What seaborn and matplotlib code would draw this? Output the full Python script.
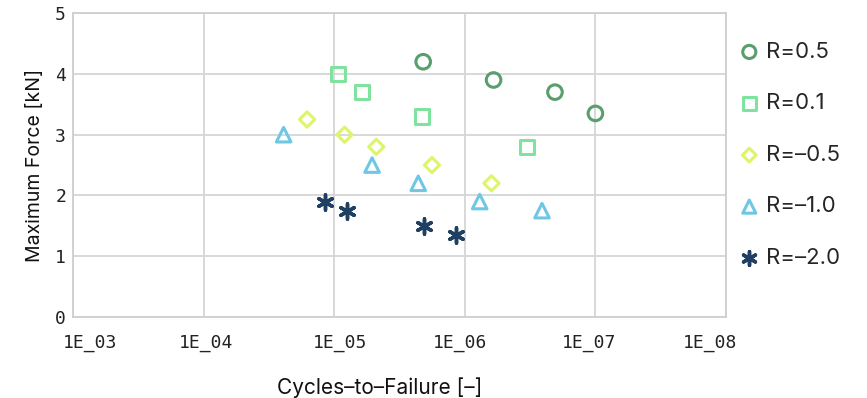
import numpy as np
import pandas as pd
import matplotlib
matplotlib.use("Agg")
import matplotlib.pyplot as plt
import matplotlib.transforms as mtransforms
import seaborn as sns

# Fatigue test results: cycles to failure and maximum force per load ratio R
labels = ["R=0.5", "R=0.1", "R=–0.5", "R=–1.0", "R=–2.0"]

cycles_r05 = [4.8e5, 1.66e6, 4.9e6, 1.0e7]
force_r05 = [4.2, 3.9, 3.7, 3.35]

cycles_r01 = [1.07e5, 1.63e5, 4.7e5, 3.0e6]
force_r01 = [4.0, 3.7, 3.3, 2.8]

cycles_rm05 = [6.2e4, 1.2e5, 2.1e5, 5.6e5, 1.6e6]
force_rm05 = [3.25, 3.0, 2.8, 2.5, 2.2]

cycles_rm10 = [4.1e4, 1.95e5, 4.4e5, 1.3e6, 3.9e6]
force_rm10 = [3.0, 2.5, 2.2, 1.9, 1.75]

cycles_rm20 = [8.5e4, 1.26e5, 4.9e5, 8.5e5]
force_rm20 = [1.9, 1.75, 1.5, 1.35]

x_ticks = [1e3, 1e4, 1e5, 1e6, 1e7, 1e8]
x_tick_labels = ["1E_03", "1E_04", "1E_05", "1E_06", "1E_07", "1E_08"]
y_ticks = [0, 1, 2, 3, 4, 5]

colors = ["#5a9e6e", "#7ee39e", "#dcf56a", "#6ec8e4", "#1f4063"]
star = (6, 2, 0)
markers = ["o", "s", "D", "^", star]
sizes = [110, 110, 60, 110, 120]

series = [
    (cycles_r05, force_r05),
    (cycles_r01, force_r01),
    (cycles_rm05, force_rm05),
    (cycles_rm10, force_rm10),
    (cycles_rm20, force_rm20),
]

sns.set_theme(style="white")
plt.rcParams["font.family"] = ["Inter", "DejaVu Sans"]

fig = plt.figure(figsize=(8.67, 3.98), dpi=100)
ax = fig.add_axes([0.0842, 0.2035, 0.7532, 0.7635])

for (xs, ys), lab, col, mk, sz in zip(series, labels, colors, markers, sizes):
    df = pd.DataFrame({"cycles": xs, "force": ys})
    filled = mk != star
    sns.scatterplot(
        data=df, x="cycles", y="force", ax=ax, label=lab,
        marker=mk, s=sz,
        facecolor="none" if filled else col,
        edgecolor=col, linewidth=2.2 if filled else 2.5,
        zorder=3,
    )

ax.set_xscale("log")
ax.set_xlim(1e3, 1e8)
ax.set_ylim(0, 5)
ax.set_xticks(x_ticks)
ax.set_xticklabels(x_tick_labels)
ax.xaxis.set_minor_locator(matplotlib.ticker.NullLocator())
ax.set_yticks(y_ticks)

ax.grid(True, color="#d6d6d6", linewidth=1.3, zorder=0)
ax.set_axisbelow(True)
for sp in ax.spines.values():
    sp.set_color("#cfcfcf")
    sp.set_linewidth(1.3)

ax.tick_params(axis="both", length=0)
ax.tick_params(axis="x", pad=12)
ax.tick_params(axis="y", pad=5)
for t in ax.get_xticklabels() + ax.get_yticklabels():
    t.set_fontfamily("DejaVu Sans Mono")
    t.set_fontsize(13)
    t.set_color("#222222")

# decade labels sit slightly inward from the outer gridlines
label_shift_px = [17, 2, 6, -5, -6, -16]
for t, dx in zip(ax.get_xticklabels(), label_shift_px):
    t.set_transform(t.get_transform() + mtransforms.ScaledTranslation(dx / 100, 0, fig.dpi_scale_trans))

ax.set_xlabel("Cycles–to–Failure [–]", fontsize=15, color="#111111")
ax.xaxis.set_label_coords(0.47, -0.2)
ax.set_ylabel("Maximum Force [kN]", fontsize=14, color="#111111", labelpad=8)

leg = ax.legend(
    loc="upper left", bbox_to_anchor=(1.005, 0.935), frameon=False,
    fontsize=16, labelspacing=1.42, handletextpad=0.25, borderaxespad=0,
    handlelength=1.0, markerscale=0.9,
)

fig.savefig("out.png", dpi=100)
